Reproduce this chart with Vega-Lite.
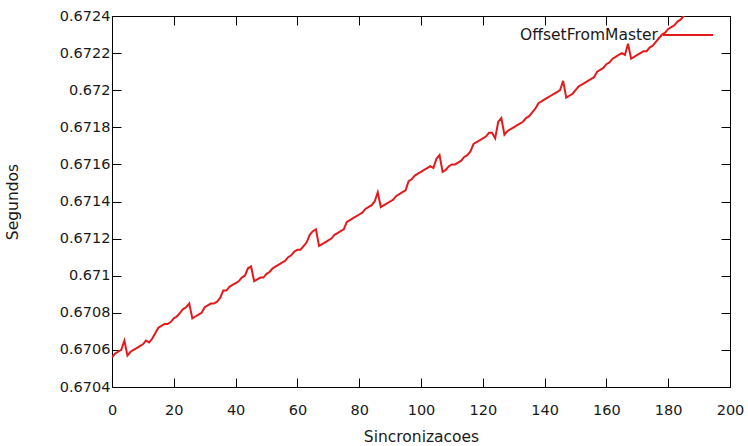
{
  "$schema": "https://vega.github.io/schema/vega-lite/v6.json",
  "width": 618,
  "height": 371,
  "autosize": {"type": "none"},
  "padding": {"left": 112, "top": 16, "right": 18, "bottom": 59},
  "background": "white",
  "config": {
    "font": "DejaVu Sans",
    "view": {"stroke": "#000000", "strokeWidth": 1},
    "axis": {
      "domain": false,
      "grid": false,
      "labelFlush": false,
      "labelOverlap": false,
      "tickColor": "#000000",
      "tickSize": -9,
      "tickWidth": 1,
      "labelFont": "DejaVu Sans",
      "labelFontSize": 14.5,
      "labelColor": "#1a1a1a",
      "titleFont": "DejaVu Sans",
      "titleFontSize": 15.5,
      "titleFontWeight": "normal",
      "titleColor": "#1a1a1a"
    }
  },
  "data": {
    "values": [
      {"sync": 0, "offset": 0.67056}, {"sync": 1, "offset": 0.67058}, {"sync": 2, "offset": 0.67059}, {"sync": 3, "offset": 0.6706},
      {"sync": 4, "offset": 0.67065}, {"sync": 5, "offset": 0.67057}, {"sync": 6, "offset": 0.67059}, {"sync": 7, "offset": 0.6706},
      {"sync": 8, "offset": 0.67061}, {"sync": 9, "offset": 0.67062}, {"sync": 10, "offset": 0.67063}, {"sync": 11, "offset": 0.67065},
      {"sync": 12, "offset": 0.67064}, {"sync": 13, "offset": 0.67066}, {"sync": 14, "offset": 0.67069}, {"sync": 15, "offset": 0.67072},
      {"sync": 16, "offset": 0.67073}, {"sync": 17, "offset": 0.67074}, {"sync": 18, "offset": 0.67074}, {"sync": 19, "offset": 0.67075},
      {"sync": 20, "offset": 0.67077}, {"sync": 21, "offset": 0.67078}, {"sync": 22, "offset": 0.6708}, {"sync": 23, "offset": 0.67082},
      {"sync": 24, "offset": 0.67083}, {"sync": 25, "offset": 0.67085}, {"sync": 26, "offset": 0.67077}, {"sync": 27, "offset": 0.67078},
      {"sync": 28, "offset": 0.67079}, {"sync": 29, "offset": 0.6708}, {"sync": 30, "offset": 0.67083}, {"sync": 31, "offset": 0.67084},
      {"sync": 32, "offset": 0.67085}, {"sync": 33, "offset": 0.67085}, {"sync": 34, "offset": 0.67086}, {"sync": 35, "offset": 0.67088},
      {"sync": 36, "offset": 0.67092}, {"sync": 37, "offset": 0.67092}, {"sync": 38, "offset": 0.67094}, {"sync": 39, "offset": 0.67095},
      {"sync": 40, "offset": 0.67096}, {"sync": 41, "offset": 0.67097}, {"sync": 42, "offset": 0.67099}, {"sync": 43, "offset": 0.671},
      {"sync": 44, "offset": 0.67104}, {"sync": 45, "offset": 0.67105}, {"sync": 46, "offset": 0.67097}, {"sync": 47, "offset": 0.67098},
      {"sync": 48, "offset": 0.67099}, {"sync": 49, "offset": 0.67099}, {"sync": 50, "offset": 0.67101}, {"sync": 51, "offset": 0.67102},
      {"sync": 52, "offset": 0.67104}, {"sync": 53, "offset": 0.67105}, {"sync": 54, "offset": 0.67106}, {"sync": 55, "offset": 0.67107},
      {"sync": 56, "offset": 0.67108}, {"sync": 57, "offset": 0.6711}, {"sync": 58, "offset": 0.67111}, {"sync": 59, "offset": 0.67113},
      {"sync": 60, "offset": 0.67114}, {"sync": 61, "offset": 0.67114}, {"sync": 62, "offset": 0.67116}, {"sync": 63, "offset": 0.67118},
      {"sync": 64, "offset": 0.67122}, {"sync": 65, "offset": 0.67124}, {"sync": 66, "offset": 0.67125}, {"sync": 67, "offset": 0.67116},
      {"sync": 68, "offset": 0.67117}, {"sync": 69, "offset": 0.67118}, {"sync": 70, "offset": 0.67119}, {"sync": 71, "offset": 0.6712},
      {"sync": 72, "offset": 0.67122}, {"sync": 73, "offset": 0.67123}, {"sync": 74, "offset": 0.67124}, {"sync": 75, "offset": 0.67125},
      {"sync": 76, "offset": 0.67129}, {"sync": 77, "offset": 0.6713}, {"sync": 78, "offset": 0.67131}, {"sync": 79, "offset": 0.67132},
      {"sync": 80, "offset": 0.67133}, {"sync": 81, "offset": 0.67134}, {"sync": 82, "offset": 0.67136}, {"sync": 83, "offset": 0.67137},
      {"sync": 84, "offset": 0.67138}, {"sync": 85, "offset": 0.6714}, {"sync": 86, "offset": 0.67145}, {"sync": 87, "offset": 0.67137},
      {"sync": 88, "offset": 0.67138}, {"sync": 89, "offset": 0.67139}, {"sync": 90, "offset": 0.6714}, {"sync": 91, "offset": 0.67141},
      {"sync": 92, "offset": 0.67143}, {"sync": 93, "offset": 0.67144}, {"sync": 94, "offset": 0.67145}, {"sync": 95, "offset": 0.67146},
      {"sync": 96, "offset": 0.67151}, {"sync": 97, "offset": 0.67152}, {"sync": 98, "offset": 0.67154}, {"sync": 99, "offset": 0.67155},
      {"sync": 100, "offset": 0.67156}, {"sync": 101, "offset": 0.67157}, {"sync": 102, "offset": 0.67158}, {"sync": 103, "offset": 0.67159},
      {"sync": 104, "offset": 0.67158}, {"sync": 105, "offset": 0.67163}, {"sync": 106, "offset": 0.67165}, {"sync": 107, "offset": 0.67156},
      {"sync": 108, "offset": 0.67157}, {"sync": 109, "offset": 0.67159}, {"sync": 110, "offset": 0.6716}, {"sync": 111, "offset": 0.6716},
      {"sync": 112, "offset": 0.67161}, {"sync": 113, "offset": 0.67162}, {"sync": 114, "offset": 0.67164}, {"sync": 115, "offset": 0.67165},
      {"sync": 116, "offset": 0.67167}, {"sync": 117, "offset": 0.67171}, {"sync": 118, "offset": 0.67172}, {"sync": 119, "offset": 0.67173},
      {"sync": 120, "offset": 0.67174}, {"sync": 121, "offset": 0.67175}, {"sync": 122, "offset": 0.67177}, {"sync": 123, "offset": 0.67177},
      {"sync": 124, "offset": 0.67174}, {"sync": 125, "offset": 0.67183}, {"sync": 126, "offset": 0.67185}, {"sync": 127, "offset": 0.67176},
      {"sync": 128, "offset": 0.67178}, {"sync": 129, "offset": 0.67179}, {"sync": 130, "offset": 0.6718}, {"sync": 131, "offset": 0.67181},
      {"sync": 132, "offset": 0.67182}, {"sync": 133, "offset": 0.67183}, {"sync": 134, "offset": 0.67185}, {"sync": 135, "offset": 0.67186},
      {"sync": 136, "offset": 0.67188}, {"sync": 137, "offset": 0.6719}, {"sync": 138, "offset": 0.67193}, {"sync": 139, "offset": 0.67194},
      {"sync": 140, "offset": 0.67195}, {"sync": 141, "offset": 0.67196}, {"sync": 142, "offset": 0.67197}, {"sync": 143, "offset": 0.67198},
      {"sync": 144, "offset": 0.67199}, {"sync": 145, "offset": 0.672}, {"sync": 146, "offset": 0.67205}, {"sync": 147, "offset": 0.67196},
      {"sync": 148, "offset": 0.67197}, {"sync": 149, "offset": 0.67198}, {"sync": 150, "offset": 0.672}, {"sync": 151, "offset": 0.67202},
      {"sync": 152, "offset": 0.67203}, {"sync": 153, "offset": 0.67204}, {"sync": 154, "offset": 0.67205}, {"sync": 155, "offset": 0.67206},
      {"sync": 156, "offset": 0.67207}, {"sync": 157, "offset": 0.6721}, {"sync": 158, "offset": 0.67211}, {"sync": 159, "offset": 0.67212},
      {"sync": 160, "offset": 0.67214}, {"sync": 161, "offset": 0.67215}, {"sync": 162, "offset": 0.67217}, {"sync": 163, "offset": 0.67218},
      {"sync": 164, "offset": 0.67219}, {"sync": 165, "offset": 0.6722}, {"sync": 166, "offset": 0.67219}, {"sync": 167, "offset": 0.67225},
      {"sync": 168, "offset": 0.67217}, {"sync": 169, "offset": 0.67218}, {"sync": 170, "offset": 0.67219}, {"sync": 171, "offset": 0.6722},
      {"sync": 172, "offset": 0.67221}, {"sync": 173, "offset": 0.67221}, {"sync": 174, "offset": 0.67223}, {"sync": 175, "offset": 0.67224},
      {"sync": 176, "offset": 0.67226}, {"sync": 177, "offset": 0.67228}, {"sync": 178, "offset": 0.6723}, {"sync": 179, "offset": 0.67231},
      {"sync": 180, "offset": 0.67233}, {"sync": 181, "offset": 0.67234}, {"sync": 182, "offset": 0.67235}, {"sync": 183, "offset": 0.67237},
      {"sync": 184, "offset": 0.67238}, {"sync": 185, "offset": 0.6724}, {"sync": 186, "offset": 0.67242}, {"sync": 187, "offset": 0.67243},
      {"sync": 188, "offset": 0.67245}, {"sync": 189, "offset": 0.67246}, {"sync": 190, "offset": 0.67248}, {"sync": 191, "offset": 0.67249},
      {"sync": 192, "offset": 0.6725}
    ]
  },
  "layer": [
    {
      "mark": {"type": "line", "strokeWidth": 2, "clip": true},
      "encoding": {
        "x": {
          "field": "sync",
          "type": "quantitative",
          "scale": {"domain": [0, 200], "nice": false, "zero": false},
          "axis": {
            "orient": "bottom",
            "values": [0, 20, 40, 60, 80, 100, 120, 140, 160, 180, 200],
            "labelPadding": 25,
            "title": "Sincronizacoes",
            "titlePadding": 13
          }
        },
        "y": {
          "field": "offset",
          "type": "quantitative",
          "scale": {"domain": [0.6704, 0.6724], "nice": false, "zero": false},
          "axis": {
            "orient": "left",
            "values": [0.6704, 0.6706, 0.6708, 0.671, 0.6712, 0.6714, 0.6716, 0.6718, 0.672, 0.6722, 0.6724],
            "format": ".4~f",
            "labelPadding": 11,
            "title": "Segundos",
            "titlePadding": 39
          }
        },
        "color": {
          "datum": "OffsetFromMaster",
          "type": "nominal",
          "scale": {"range": ["#e41a1c"]},
          "legend": {
            "title": null,
            "orient": "none",
            "legendX": 550,
            "legendY": -7,
            "padding": 0,
            "symbolType": "stroke",
            "symbolSize": 2500,
            "symbolStrokeWidth": 2,
            "labelAlign": "right",
            "labelOffset": -56,
            "labelFont": "DejaVu Sans",
            "labelFontSize": 15.5,
            "labelColor": "#1a1a1a"
          }
        }
      }
    },
    {
      "mark": {"type": "line", "opacity": 0},
      "encoding": {
        "x": {
          "field": "sync",
          "type": "quantitative",
          "scale": {"domain": [0, 200], "nice": false, "zero": false},
          "axis": {
            "orient": "top",
            "values": [0, 20, 40, 60, 80, 100, 120, 140, 160, 180, 200],
            "labels": false,
            "title": null
          }
        },
        "y": {
          "field": "offset",
          "type": "quantitative",
          "scale": {"domain": [0.6704, 0.6724], "nice": false, "zero": false},
          "axis": {
            "orient": "right",
            "values": [0.6704, 0.6706, 0.6708, 0.671, 0.6712, 0.6714, 0.6716, 0.6718, 0.672, 0.6722, 0.6724],
            "labels": false,
            "title": null
          }
        }
      }
    }
  ],
  "resolve": {"axis": {"x": "independent", "y": "independent"}}
}
